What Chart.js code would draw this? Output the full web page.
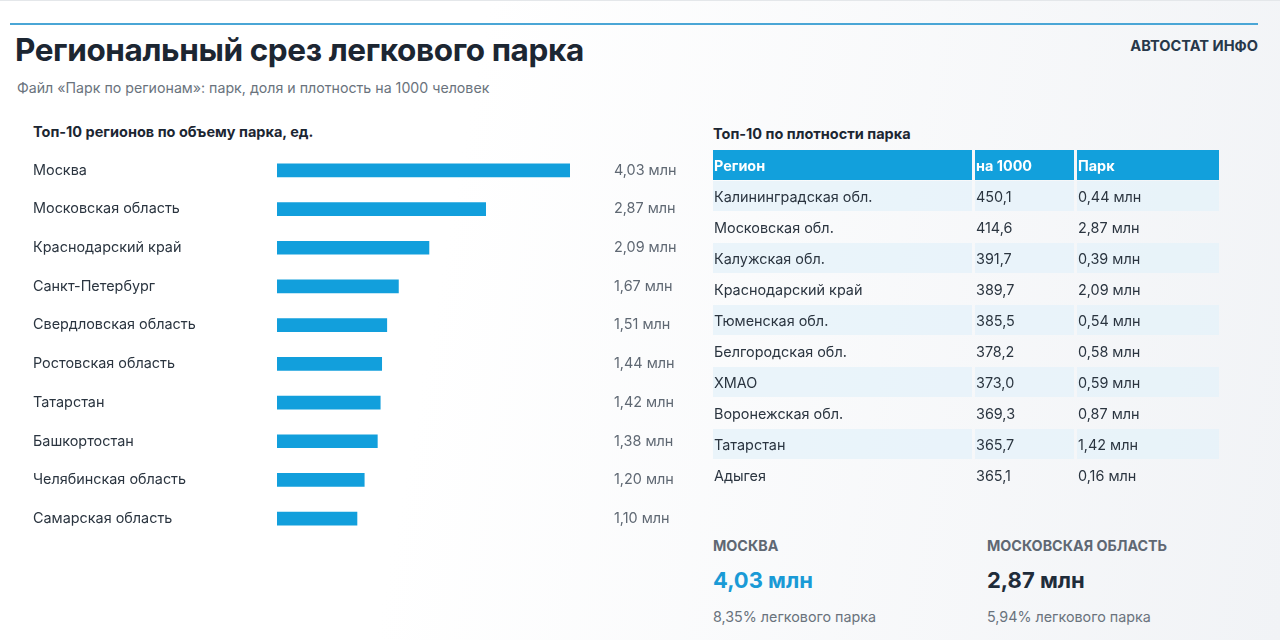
<!DOCTYPE html>
<html lang="ru">
<head>
<meta charset="utf-8">
<script src="https://cdn.jsdelivr.net/npm/chart.js@4/dist/chart.umd.min.js"></script>
<style>
  html, body { margin: 0; padding: 0; }
  body {
    width: 1280px; height: 640px; overflow: hidden; position: relative;
    font-family: Inter, "Noto Sans", sans-serif;
    background: linear-gradient(100deg, #ffffff 35%, #f1f3f6 100%);
    color: #1f2a36;
  }
  .topline { position: absolute; left: 10px; top: 23px; width: 1248px; height: 2px; background: #4aa6d6; }
  .topedge { position: absolute; left: 0; top: 0; width: 1280px; height: 1px; background: #e4e7ea; }
  .title { position: absolute; left: 15px; top: 30px; font-size: 31.5px; font-weight: 700; letter-spacing: -0.4px; color: #1c2632; white-space: nowrap; }
  .subtitle { position: absolute; left: 17px; top: 79px; font-size: 14.2px; color: #6a737d; white-space: nowrap; }
  .brand { position: absolute; right: 22px; top: 37px; font-size: 14.6px; font-weight: 700; color: #27384a; }
  .h2 { position: absolute; font-size: 14.5px; font-weight: 700; color: #1c2632; white-space: nowrap; }
  #bars { position: absolute; left: 33px; top: 151px; }
  table { position: absolute; left: 710px; top: 149px; border-collapse: separate; border-spacing: 3px 1px; }
  th, td { padding: 0 0 0 1px; height: 30px; font-size: 14.4px; text-align: left; white-space: nowrap; }
  th { background: #12a0dc; color: #fff; font-weight: 700; }
  td { color: #2b3540; }
  tbody tr:nth-child(odd) td { background: rgba(228, 241, 250, 0.75); }
  .kpi { position: absolute; top: 537px; }
  .kpi .lbl { font-size: 14.3px; font-weight: 700; color: #5f6873; text-transform: uppercase; }
  .kpi .val { font-size: 22px; font-weight: 700; margin-top: 13px; }
  .kpi .sub { font-size: 14.3px; color: #6a737d; margin-top: 15px; }
</style>
</head>
<body>
<div class="topedge"></div>
<div class="topline"></div>
<div class="title">Региональный срез легкового парка</div>
<div class="subtitle">Файл «Парк по регионам»: парк, доля и плотность на 1000 человек</div>
<div class="brand">АВТОСТАТ ИНФО</div>

<div class="h2" style="left:33px; top:123px;">Топ-10 регионов по объему парка, ед.</div>
<canvas id="bars" width="680" height="387"></canvas>

<div class="h2" style="left:713px; top:125px;">Топ-10 по плотности парка</div>
<table id="dens"><thead><tr><th style="width:258px">Регион</th><th style="width:98px">на 1000</th><th style="width:141px">Парк</th></tr></thead><tbody></tbody></table>

<div class="kpi" style="left:713px;"><div class="lbl" id="k1l"></div><div class="val" id="k1v" style="color:#1a9ad6"></div><div class="sub" id="k1s"></div></div>
<div class="kpi" style="left:987px;"><div class="lbl" id="k2l"></div><div class="val" id="k2v" style="color:#1f2c3a"></div><div class="sub" id="k2s"></div></div>

<script>
// ---- Data: top-10 regions by fleet size (mln) ----
const regions = ["Москва", "Московская область", "Краснодарский край", "Санкт-Петербург", "Свердловская область",
                 "Ростовская область", "Татарстан", "Башкортостан", "Челябинская область", "Самарская область"];
const fleetMln = [4.03, 2.87, 2.09, 1.67, 1.51, 1.44, 1.42, 1.38, 1.20, 1.10];

// ---- Data: top-10 by density per 1000 people ----
const densRegions = ["Калининградская обл.", "Московская обл.", "Калужская обл.", "Краснодарский край", "Тюменская обл.",
                     "Белгородская обл.", "ХМАО", "Воронежская обл.", "Татарстан", "Адыгея"];
const densPer1000 = [450.1, 414.6, 391.7, 389.7, 385.5, 378.2, 373.0, 369.3, 365.7, 365.1];
const densFleetMln = [0.44, 2.87, 0.39, 2.09, 0.54, 0.58, 0.59, 0.87, 1.42, 0.16];

// ---- Data: KPI cards ----
const kpiNames = ["Москва", "Московская область"];
const kpiFleet = [4.03, 2.87];
const kpiShare = [8.35, 5.94];

const fmt = (v, d) => v.toFixed(d).replace('.', ',');
const mln = v => fmt(v, 2) + ' млн';

// table
const tb = document.querySelector('#dens tbody');
densRegions.forEach((r, i) => {
  const tr = document.createElement('tr');
  [r, fmt(densPer1000[i], 1), mln(densFleetMln[i])].forEach(t => {
    const td = document.createElement('td'); td.textContent = t; tr.appendChild(td);
  });
  tb.appendChild(tr);
});

// KPIs
[1, 2].forEach(k => {
  document.getElementById('k' + k + 'l').textContent = kpiNames[k - 1];
  document.getElementById('k' + k + 'v').textContent = mln(kpiFleet[k - 1]);
  document.getElementById('k' + k + 's').textContent = fmt(kpiShare[k - 1], 2) + '% легкового парка';
});

// chart
const font = { family: 'Inter, "Noto Sans", sans-serif', size: 14.4 };
new Chart(document.getElementById('bars'), {
  type: 'bar',
  data: {
    labels: regions,
    datasets: [{ data: fleetMln, backgroundColor: '#129fdc', barThickness: 13, borderWidth: 0, borderSkipped: false }]
  },
  options: {
    indexAxis: 'y',
    responsive: false,
    animation: false,
    devicePixelRatio: 1,
    layout: { padding: 0 },
    plugins: { legend: { display: false }, tooltip: { enabled: false } },
    scales: {
      x: { display: false, min: 0, max: Math.max(...fleetMln) },
      y: {
        position: 'left',
        grid: { display: false, drawTicks: false },
        border: { display: false },
        ticks: { crossAlign: 'far', padding: 0, autoSkip: false, color: '#2b3540', font },
        afterFit: s => { s.width = 244; s.paddingTop = 0; s.paddingBottom = 0; }
      },
      y2: {
        type: 'category',
        position: 'right',
        labels: fleetMln.map(mln),
        grid: { display: false, drawTicks: false },
        border: { display: false },
        ticks: { crossAlign: 'near', padding: 44, autoSkip: false, color: '#5f6873', font },
        afterFit: s => { s.width = 143; s.paddingTop = 0; s.paddingBottom = 0; }
      }
    }
  }
});
</script>
</body>
</html>
